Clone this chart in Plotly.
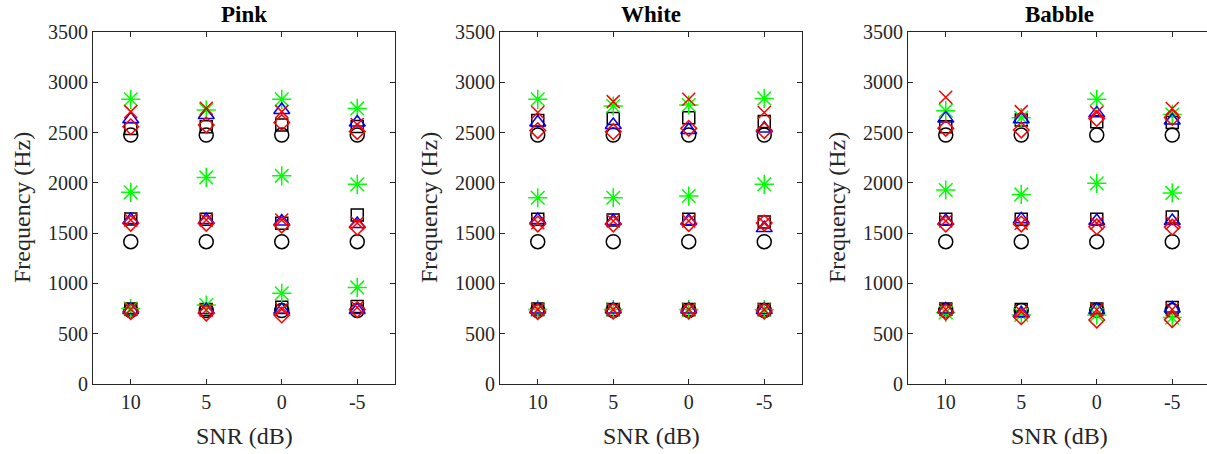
import plotly.graph_objects as go

W, H = 1207, 454

snr_labels = ["10", "5", "0", "-5"]
snr_pos = [1, 2, 3, 4]
panels = ["Pink", "White", "Babble"]

# Each list: F1 at SNR 10,5,0,-5 ; F2 at 10,5,0,-5 ; F3 at 10,5,0,-5
ref_circle = [730, 730, 730, 730, 1415, 1415, 1415, 1415, 2475, 2475, 2475, 2475]

pink_square = [745, 740, 763, 770, 1640, 1637, 1598, 1680, 2540, 2558, 2575, 2560]
pink_diamond = [720, 705, 686, 740, 1598, 1598, 1580, 1560, 2558, 2575, 2600, 2510]
pink_x = [740, 735, 743, 760, 1630, 1630, 1630, 1600, 2708, 2741, 2708, 2580]
pink_triangle = [735, 735, 735, 735, 1630, 1630, 1615, 1590, 2632, 2675, 2724, 2600]
pink_asterisk = [750, 785, 902, 960, 1906, 2054, 2070, 1985, 2831, 2724, 2831, 2740]

white_square = [745, 740, 740, 740, 1637, 1630, 1637, 1610, 2620, 2641, 2648, 2610]
white_diamond = [719, 725, 725, 725, 1590, 1590, 1595, 1600, 2520, 2509, 2542, 2520]
white_x = [740, 740, 740, 740, 1604, 1620, 1620, 1600, 2700, 2808, 2831, 2700]
white_triangle = [740, 740, 740, 735, 1630, 1620, 1620, 1550, 2600, 2575, 2525, 2540]
white_asterisk = [740, 740, 740, 740, 1852, 1852, 1869, 1985, 2831, 2764, 2774, 2840]

babble_square = [745, 742, 745, 760, 1637, 1637, 1637, 1660, 2558, 2625, 2608, 2600]
babble_diamond = [715, 669, 636, 640, 1590, 1590, 1564, 1560, 2542, 2525, 2641, 2650]
babble_x = [740, 719, 739, 740, 1620, 1598, 1598, 1600, 2851, 2708, 2700, 2740]
babble_triangle = [740, 703, 735, 750, 1620, 1637, 1620, 1620, 2641, 2632, 2691, 2620]
babble_asterisk = [711, 686, 686, 660, 1929, 1885, 1995, 1900, 2718, 2648, 2831, 2680]

panel_data = {
    "Pink": (pink_square, pink_asterisk, pink_triangle, pink_diamond, pink_x),
    "White": (white_square, white_asterisk, white_triangle, white_diamond, white_x),
    "Babble": (babble_square, babble_asterisk, babble_triangle, babble_diamond, babble_x),
}

xs = snr_pos * 3

styles = [
    ("circle-open", "#000000", 14),
    ("square-open", "#000000", 12),
    ("asterisk-open", "#00FF00", 16),
    ("triangle-up-open", "#0000FF", 14),
    ("diamond-open", "#FF0000", 12),
    ("x-thin-open", "#FF0000", 13),
]

fig = go.Figure()

# pixel geometry of axes
x_left = [93, 500, 908]
ax_w = 302
y_top, y_bot = 32, 384
AX = "#262626"
FONT = "Liberation Serif"

for i, name in enumerate(panels):
    sq, ast, tri, dia, xx = panel_data[name]
    series = [ref_circle, sq, ast, tri, dia, xx]
    suffix = "" if i == 0 else str(i + 1)
    for (sym, col, sz), vals in zip(styles, series):
        fig.add_trace(go.Scatter(
            x=xs, y=vals, mode="markers", showlegend=False,
            xaxis="x" + suffix, yaxis="y" + suffix,
            marker=dict(symbol=sym, size=sz, color=col,
                        line=dict(color=col, width=1.5)),
            cliponaxis=False,
        ))

    x0 = x_left[i]
    x1 = min(x0 + ax_w, W)
    xmax = 0.5 + (x1 - x0) * 4.0 / ax_w
    dom_x = [x0 / W, x1 / W]
    dom_y = [(H - y_bot) / H, (H - y_top) / H]
    clipped = (x0 + ax_w) > W
    fig.layout["xaxis" + suffix] = dict(
        domain=dom_x, anchor="y" + suffix, range=[0.5, xmax],
        tickvals=snr_pos, ticktext=snr_labels, ticks="inside", ticklen=5,
        tickcolor=AX, showline=True, linecolor=AX, linewidth=1,
        mirror="ticks", showgrid=False, zeroline=False, automargin=False,
        tickfont=dict(family=FONT, size=20, color=AX),
    )
    fig.layout["yaxis" + suffix] = dict(
        domain=dom_y, anchor="x" + suffix, range=[0, 3500], dtick=500,
        ticks="inside", ticklen=5, tickcolor=AX, showline=True, linecolor=AX,
        linewidth=1, mirror=(False if clipped else "ticks"), showgrid=False,
        zeroline=False, automargin=False,
        tickfont=dict(family=FONT, size=20, color=AX),
    )
    cx = (x0 + x0 + ax_w) / 2.0
    fig.add_annotation(text="<b>" + name + "</b>", x=cx / W, y=(H - 14) / H,
                       xref="paper", yref="paper", showarrow=False,
                       font=dict(family=FONT, size=23, color="#000000"),
                       xanchor="center", yanchor="middle")
    fig.add_annotation(text="SNR (dB)", x=cx / W, y=(H - 436) / H,
                       xref="paper", yref="paper", showarrow=False,
                       font=dict(family=FONT, size=24, color=AX),
                       xanchor="center", yanchor="middle")
    fig.add_annotation(text="Frequency (Hz)", x=(x0 - 71) / W, y=(H - 208) / H,
                       xref="paper", yref="paper", showarrow=False, textangle=-90,
                       font=dict(family=FONT, size=24, color=AX),
                       xanchor="center", yanchor="middle")

fig.update_layout(
    template="none",
    width=W, height=H, margin=dict(l=0, r=0, t=0, b=0, pad=0, autoexpand=False),
    paper_bgcolor="white", plot_bgcolor="white",
)

fig.write_html("out.html")
